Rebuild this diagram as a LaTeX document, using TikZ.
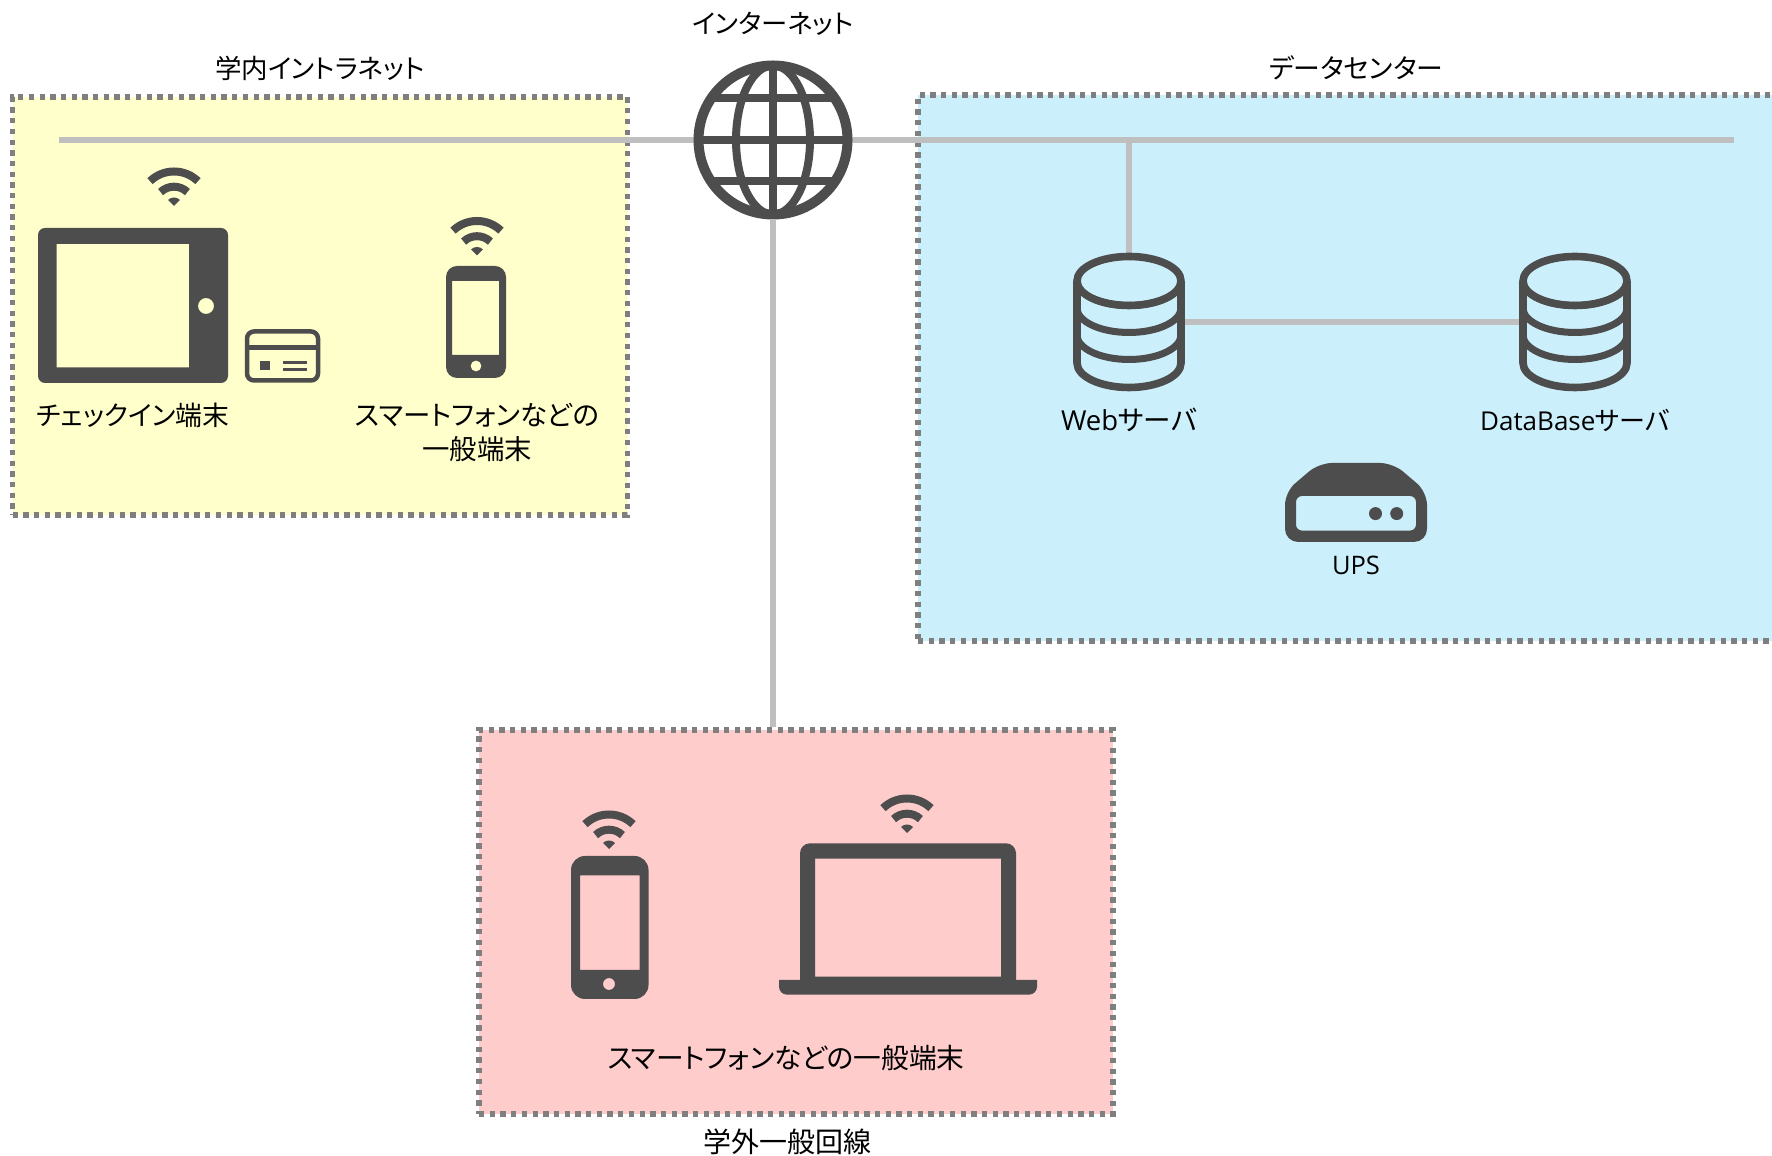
\documentclass[tikz,border=0pt]{standalone}
\usepackage{fontspec}
\setmainfont{Noto Sans CJK JP}[RawFeature={+palt}]
\newfontfamily\latf{Open Sans}
\definecolor{icon}{HTML}{4D4D4D}
\definecolor{wire}{HTML}{BFBFBF}
\definecolor{edge}{HTML}{7F7F7F}
\definecolor{zoneY}{HTML}{FFFFCC}
\definecolor{zoneB}{HTML}{CCEFFC}
\definecolor{zoneP}{HTML}{FFCCCC}
\tikzset{
  zone/.style={draw=edge,line width=5.3pt,dash pattern=on 5.3pt off 5.4pt,inner sep=0pt,anchor=center},
  wireline/.style={draw=wire,line width=5.5pt},
  label/.style={inner sep=0pt,text=black,align=center},
  labelsize/.style={font=\fontsize{#1}{34}\selectfont},
  iconfill/.style={fill=icon,even odd rule},
  wifi/.pic={
    \draw[icon,line width=8pt] (46:34.5pt) arc[start angle=46,end angle=134,radius=34.5pt];
    \draw[icon,line width=8pt] (46:19.3pt) arc[start angle=46,end angle=134,radius=19.3pt];
    \fill[icon] (0,0) -- (45:8.5pt) arc[start angle=45,end angle=135,radius=8.5pt] -- cycle;
  },
  cyl/.pic={
    \draw[icon,line width=7.6pt,line join=round]
      (-52pt,41pt) arc[start angle=180,end angle=540,x radius=52pt,y radius=24.5pt]
      -- (-52pt,-41pt) arc[start angle=180,end angle=360,x radius=52pt,y radius=24.5pt]
      -- (52pt,41pt);
    \draw[icon,line width=7pt] (-52pt,14pt) arc[start angle=180,end angle=360,x radius=52pt,y radius=24.5pt];
    \draw[icon,line width=7pt] (-52pt,-13pt) arc[start angle=180,end angle=360,x radius=52pt,y radius=24.5pt];
    \draw[icon,line width=7pt] (-52pt,41pt) arc[start angle=180,end angle=360,x radius=52pt,y radius=24.5pt];
  },
}
\begin{document}
\begin{tikzpicture}[x=1pt,y=1pt]
\useasboundingbox (0,0) rectangle (1772,1156);
% zones
\node[zone,fill=zoneY,minimum width=615pt,minimum height=418pt] (intra) at (320,850) {};
\node[zone,fill=zoneB,minimum width=870pt,minimum height=546pt] (dc) at (1353,788) {};
\node[zone,fill=zoneP,minimum width=634pt,minimum height=384pt] (ext) at (796,234) {};
% anchors
\coordinate (busL) at (59,1016);
\coordinate (busR) at (1734,1016);
\node[circle,minimum size=159pt,inner sep=0pt] (globe) at (773,1016) {};
\node[minimum width=112pt,minimum height=138pt,inner sep=0pt] (web) at (1129,834) {};
\node[minimum width=112pt,minimum height=138pt,inner sep=0pt] (db) at (1575,834) {};
% connectors
\draw[wireline] (busL) -- (busR);
\draw[wireline] (globe.south) -- (globe.south |- ext.north);
\draw[wireline] (web.north) -- (web.north |- busL);
\draw[wireline] (web.east) -- (db.west);
% globe
\begin{scope}[shift={(globe.center)}]
  \draw[icon,line width=10pt] (0,0) circle[radius=74.5pt];
  \draw[icon,line width=8pt] (0,0) ellipse[x radius=37pt,y radius=74.5pt];
  \draw[icon,line width=8pt] (-74.5pt,0) -- (74.5pt,0);
  \draw[icon,line width=8pt] (0,-74.5pt) -- (0,74.5pt);
  \draw[icon,line width=8pt] (-62pt,41.5pt) -- (62pt,41.5pt);
  \draw[icon,line width=8pt] (-62pt,-41.5pt) -- (62pt,-41.5pt);
\end{scope}
% servers
\pic at (web.center) {cyl};
\pic at (db.center) {cyl};
% UPS
\fill[iconfill]
  [rounded corners=13pt] (1285,614) -- (1285,664) -- (1319,693) -- (1393,693) -- (1427,664) -- (1427,614) -- cycle
  [rounded corners=6pt] (1296,660) rectangle (1416,625.4)
  [sharp corners] (1375.5,642.4) circle[radius=6.5pt] (1396.7,642.4) circle[radius=6.5pt];
% tablet
\fill[iconfill]
  [rounded corners=7pt] (38,928) rectangle (228,773)
  [sharp corners] (56.5,912) rectangle (189,788.5)
  (206,850) circle[radius=8pt];
% card
\draw[icon,line width=4.5pt,rounded corners=7pt] (247,824.5) rectangle (318,775.5);
\draw[icon,line width=5pt] (247,808) -- (318,808);
\fill[icon] (259.5,795) rectangle (270,785.5);
\fill[icon] (282.5,795) rectangle (307,792);
\fill[icon] (282.5,787.5) rectangle (307,785);
% phone yellow
\fill[iconfill]
  [rounded corners=11pt] (446,890) rectangle (506,778)
  [sharp corners] (452,875) rectangle (499,801)
  (476,790) circle[radius=5.5pt];
% phone pink
\fill[iconfill]
  [rounded corners=14pt] (571,300) rectangle (648.5,157)
  [sharp corners] (580,280.7) rectangle (639.6,186)
  (609,172) circle[radius=6pt];
% laptop
\fill[iconfill]
  (800,176) -- (800,302.7) arc[start angle=180,end angle=90,radius=10pt]
  -- (1006,312.7) arc[start angle=90,end angle=0,radius=10pt] -- (1016,176) -- cycle
  (815,297.3) rectangle (1001,179.3);
\fill[icon] (779,176) -- (1037,176) -- (1037,169.3) arc[start angle=0,end angle=-90,radius=8pt]
  -- (787,161.3) arc[start angle=-90,end angle=-180,radius=8pt] -- cycle;
% wifi
\pic at (174,950) {wifi};
\pic at (477,900.5) {wifi};
\pic at (609,307) {wifi};
\pic at (907,323) {wifi};
% labels
\node[label,labelsize=26.3] (tInet) at (773,1132) {インターネット};
\node[label,labelsize=26.5] (tIntra) at (320,1088) {学内イントラネット};
\node[label,labelsize=26.8] (tDc) at (1356,1088) {データセンター};
\node[label,labelsize=26.8] (tCheck) at (133,741) {チェックイン端末};
\node[label,labelsize=27.4] (tPhone) at (477,724) {スマートフォンなどの\\一般端末};
\node[label,labelsize=27.5] (tWeb) at (1129,736) {{\latf Web}サーバ};
\node[label,labelsize=26] (tDb) at (1575,736) {{\latf DataBase}サーバ};
\node[label,labelsize=25.5] (tUps) at (1356,591) {{\latf UPS}};
\node[label,labelsize=27.7] (tPink) at (786,98) {スマートフォンなどの一般端末};
\node[label,labelsize=28] (tExt) at (787,14) {学外一般回線};
\end{tikzpicture}
\end{document}
